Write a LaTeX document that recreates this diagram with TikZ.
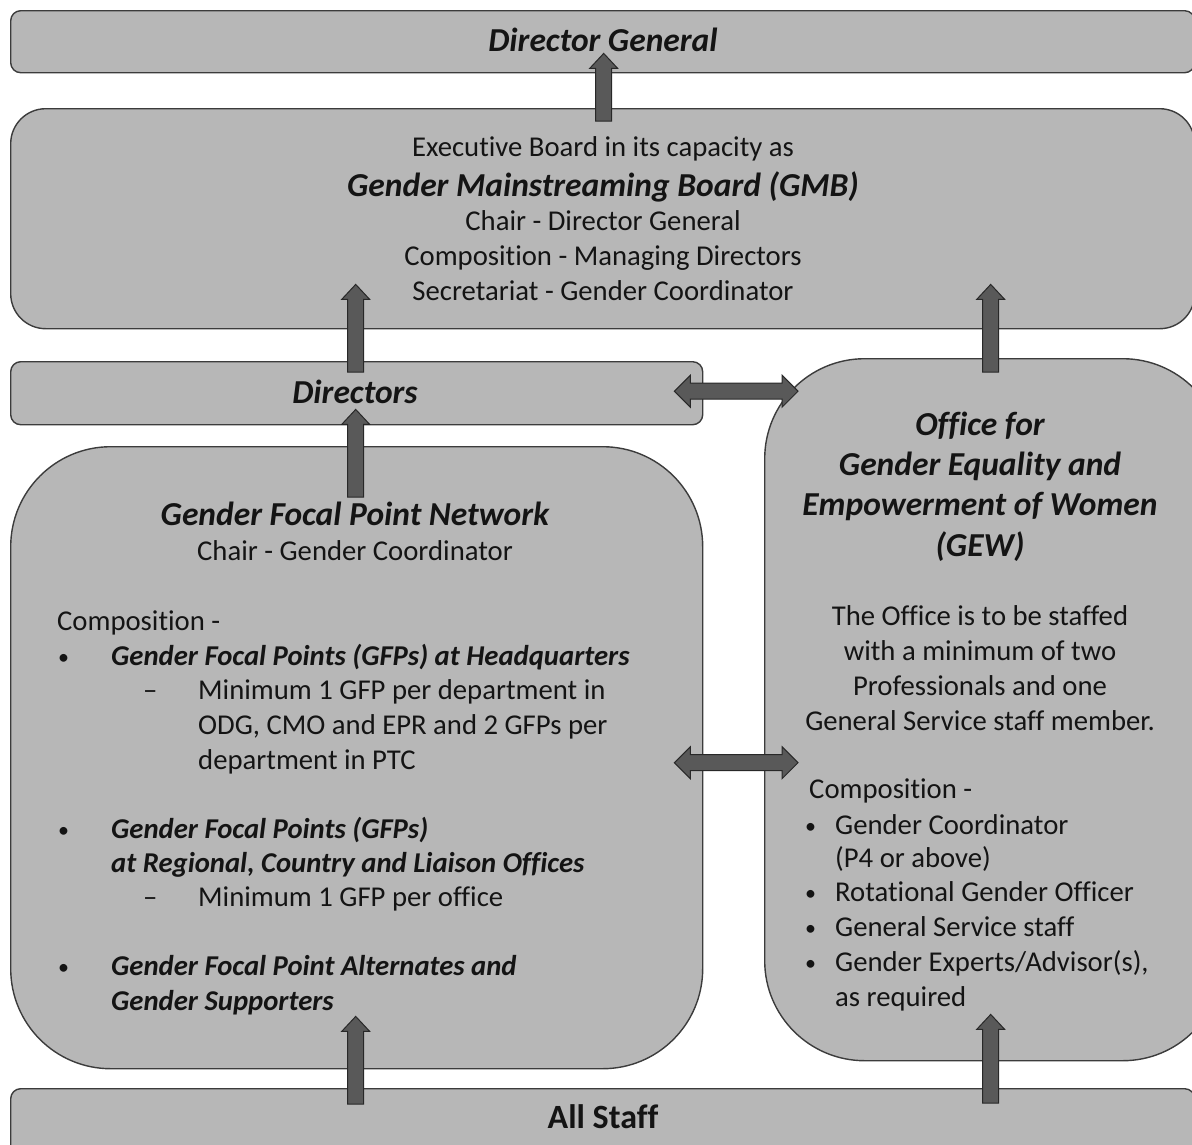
\documentclass[tikz,border=0pt]{standalone}
\usepackage{fontspec}
\setmainfont{Carlito}[Ligatures=CommonOff]
\usetikzlibrary{calc}
\definecolor{boxfill}{RGB}{183,183,183}
\definecolor{boxline}{RGB}{60,60,60}
\definecolor{arrfill}{RGB}{89,89,89}
\definecolor{arrline}{RGB}{40,40,40}
\definecolor{txt}{RGB}{20,20,20}
\tikzset{
  box/.style={draw=boxline, fill=boxfill, line width=1.4pt, anchor=north west, inner sep=0pt},
  body/.style={font=\fontsize{28.7}{34}\selectfont, inner sep=0pt, text=txt, anchor=base},
  bodyl/.style={body, anchor=base west},
  bul/.style={font=\fontsize{22}{34}\selectfont, inner sep=0pt, text=txt, anchor=base west},
  bi/.style={font=\fontsize{28.7}{34}\selectfont\bfseries\itshape, inner sep=0pt, text=txt, anchor=base west},
  ttl/.style={font=\fontsize{33.5}{40}\selectfont\bfseries\itshape, inner sep=0pt, text=txt, anchor=base},
  blk/.style={fill=arrfill, draw=arrline, line width=1pt, line join=miter},
}
\newcommand\blkup[2]{\path[blk] let \p1=(#1), \p2=(#2) in
  (\x1-8pt,\y1) -- (\x1+8pt,\y1) -- (\x1+8pt,\y2-15pt) -- (\x1+14pt,\y2-15pt) -- (\x1,\y2)
  -- (\x1-14pt,\y2-15pt) -- (\x1-8pt,\y2-15pt) -- cycle;}
\newcommand\blkdbl[2]{\path[blk] let \p1=(#1), \p2=(#2) in
  (\x1,\y1) -- (\x1+16pt,\y1+16pt) -- (\x1+16pt,\y1+8pt) -- (\x2-16pt,\y1+8pt) -- (\x2-16pt,\y1+16pt)
  -- (\x2,\y1) -- (\x2-16pt,\y1-16pt) -- (\x2-16pt,\y1-8pt) -- (\x1+16pt,\y1-8pt) -- (\x1+16pt,\y1-16pt) -- cycle;}
\begin{document}
\begin{tikzpicture}[x=1pt,y=-1pt]
\useasboundingbox (0,0) rectangle (1192,1144);
% boxes
\node[box, minimum width=1184pt, minimum height=62pt, rounded corners=10pt] (dg) at (10,10) {};
\node[box, minimum width=1184pt, minimum height=220pt, rounded corners=35pt] (gmb) at (10,108) {};
\node[box, minimum width=692pt, minimum height=63pt, rounded corners=10pt] (dir) at (10,361) {};
\node[box, minimum width=692pt, minimum height=622pt, rounded corners=100pt] (gfp) at (10,446) {};
\node[box, minimum width=458pt, minimum height=702pt, rounded corners=100pt] (gew) at (764,358) {};
\node[box, minimum width=1184pt, minimum height=80pt, rounded corners=10pt] (all) at (10,1088) {};
% texts
\node[ttl] (tdg) at (603,51) {Director General};
\node[body] (g1) at (603,156) {Executive Board in its capacity as};
\node[ttl] (g2) at (603,196) {Gender Mainstreaming Board (GMB)};
\node[body] (g3) at (603,230) {Chair - Director General};
\node[body] (g4) at (603,265) {Composition - Managing Directors};
\node[body] (g5) at (603,300) {Secretariat - Gender Coordinator};
\node[ttl] (tdir) at (355,403) {Directors};
\node[ttl] (f1) at (355,525) {Gender Focal Point Network};
\node[body] (f2) at (355,560) {Chair - Gender Coordinator};
\node[bodyl] (f3) at (57,630) {Composition -};
\node[bul] (fb1) at (58,664) {•};
\node[bi] (f4) at (111,665) {Gender Focal Points (GFPs) at Headquarters};
\node[bodyl] (fd1) at (143,699) {–};
\node[bodyl] (f5) at (198,699) {Minimum 1 GFP per department in};
\node[bodyl] (f6) at (198,734) {ODG, CMO and EPR and 2 GFPs per};
\node[bodyl] (f7) at (198,769) {department in PTC};
\node[bul] (fb2) at (58,837) {•};
\node[bi] (f8) at (111,838) {Gender Focal Points (GFPs)};
\node[bi] (f9) at (111,872) {at Regional, Country and Liaison Offices};
\node[bodyl] (fd2) at (143,906) {–};
\node[bodyl] (f10) at (198,906) {Minimum 1 GFP per office};
\node[bul] (fb3) at (58,974) {•};
\node[bi] (f11) at (111,975) {Gender Focal Point Alternates and};
\node[bi] (f12) at (111,1010) {Gender Supporters};
\node[ttl] (e1) at (980,435) {Office for};
\node[ttl] (e2) at (980,475) {Gender Equality and};
\node[ttl] (e3) at (980,515) {Empowerment of Women};
\node[ttl] (e4) at (980,556) {(GEW)};
\node[body] (e5) at (980,625) {The Office is to be staffed};
\node[body] (e6) at (980,660) {with a minimum of two};
\node[body] (e7) at (980,695) {Professionals and one};
\node[body] (e8) at (980,730) {General Service staff member.};
\node[bodyl] (e9) at (809,798) {Composition -};
\node[bul] (eb1) at (805,833) {•};
\node[bodyl] (e10) at (835,834) {Gender Coordinator};
\node[bodyl] (e11) at (835,867) {(P4 or above)};
\node[bul] (eb2) at (805,900) {•};
\node[bodyl] (e12) at (835,901) {Rotational Gender Officer};
\node[bul] (eb3) at (805,935) {•};
\node[bodyl] (e13) at (835,936) {General Service staff};
\node[bul] (eb4) at (805,970) {•};
\node[bodyl] (e14) at (835,971) {Gender Experts/Advisor(s),};
\node[bodyl] (e15) at (835,1006) {as required};
\node[font=\fontsize{34}{40}\selectfont\bfseries, inner sep=0pt, text=txt, anchor=base] (tall) at (603,1128) {All Staff};
% arrow end points
\coordinate (a1s) at ($(gmb.north)+(1,13)$);
\coordinate (a1t) at ($(dg.south)+(1,-20)$);
\coordinate (a2s) at ($(dir.north)+(-1,11)$);
\coordinate (a2t) at ($(gmb.south)+(0,-45)$);
\coordinate (a3s) at ($(gfp.north)+(-1,51)$);
\coordinate (a3t) at ($(dir.south)+(0,-16)$);
\coordinate (a4s) at ($(gew.north)+(-3,14)$);
\coordinate (a4t) at ($(gmb.south)+(0,-45)$);
\coordinate (a5s) at ($(all.north)+(-247,16)$);
\coordinate (a5t) at ($(gfp.south)+(0,-53)$);
\coordinate (a6s) at ($(all.north)+(388,15)$);
\coordinate (a6t) at ($(gew.south)+(0,-47)$);
\coordinate (d1l) at ($(dir.east)+(-29,-2)$);
\coordinate (d1r) at ($(gew.west |- dir.east)+(34,-2)$);
\coordinate (d2l) at ($(gfp.east)+(-29,5)$);
\coordinate (d2r) at ($(gew.west |- gfp.east)+(34,5)$);
% arrows
\blkup{a1s}{a1t}
\blkup{a2s}{a2t}
\blkup{a3s}{a3t}
\blkup{a4s}{a4t}
\blkup{a5s}{a5t}
\blkup{a6s}{a6t}
\blkdbl{d1l}{d1r}
\blkdbl{d2l}{d2r}
\end{tikzpicture}
\end{document}
